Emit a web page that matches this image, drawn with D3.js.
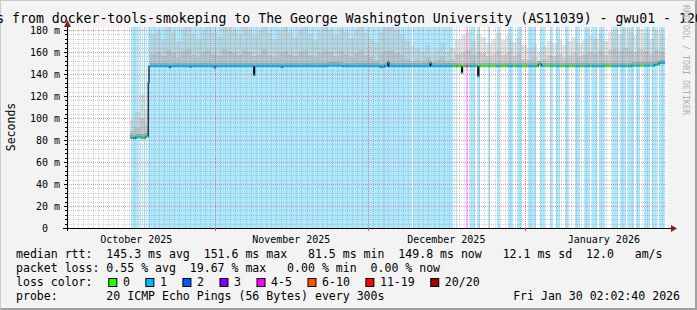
<!DOCTYPE html>
<html>
<head>
<meta charset="utf-8">
<script src="https://cdn.jsdelivr.net/npm/d3@7"></script>
<style>
  body { margin: 0; background: #f3f3f3; }
  svg { display: block; }
  text { font-family: "DejaVu Sans Mono", monospace; white-space: pre; fill: #000; }
</style>
</head>
<body>
<div id="chart"></div>
<script>

// ---- data (days counted from 2025-10-01 00:00 UTC) ----
var titleText = "Last 120 Days from docker-tools-smokeping to The George Washington University (AS11039) - gwu01 - 120 Days";
var yTicks = [0, 20, 40, 60, 80, 100, 120, 140, 160, 180];
var monthStarts = ["2025-10-01", "2025-11-01", "2025-12-01", "2026-01-01", "2026-02-01"];
var monthNames = ["October 2025", "November 2025", "December 2025", "January 2026"];

// median rtt, step after: [day, ms]
var medianRtt = [
  [14.3, 82], [14.9, 81.5], [15.4, 82.5], [16.5, 82], [17.3, 83], [17.85, 132], [18.0, 147],
  [22.0, 146], [22.3, 147], [26.0, 146.4], [26.3, 147], [30.8, 145.8], [31.1, 147],
  [38.6, 139], [38.8, 147], [44.0, 146.2], [44.3, 147], [53.0, 147.5], [56.0, 147],
  [63.5, 146.2], [64.0, 147], [65.0, 150.5], [65.2, 147], [73.3, 150], [73.5, 147],
  [79.5, 141], [79.7, 147], [82.7, 138], [82.9, 147], [94.6, 149], [95.2, 147.3],
  [96.5, 147], [113.0, 147.5], [117.5, 148.5], [118.3, 149.8]
];
var dataStart = 14.3, dataEnd = 119.5;

// packet loss runs: [from day, to day, lost pings of 20]
var lossRuns = [
  [14.46, 14.96, 1], [15.15, 16.04, 1], [16.23, 16.43, 1], [16.63, 16.82, 1], [17.02, 17.22, 1], [17.41, 17.61, 1],
  [17.9, 64.25, 1], [64.25, 64.45, 2], [64.45, 69.75, 1], [69.95, 77.8, 1],
  [78.5, 78.7, 1], [80.4, 80.8, 4], [81.2, 82.2, 1], [82.6, 83.2, 1], [84.7, 85.1, 1], [86.4, 87.1, 1],
  [88.6, 89.6, 1], [90.4, 91.4, 1], [92.6, 94.2, 1], [95.0, 95.9, 1], [96.9, 97.5, 1], [98.1, 98.9, 1],
  [99.9, 100.6, 1], [101.8, 102.8, 1], [103.6, 104.8, 1], [105.2, 106.2, 1], [106.6, 107.7, 1],
  [109.1, 110.3, 1], [110.7, 111.9, 1], [112.3, 113.5, 1], [113.9, 114.6, 1], [115.4, 116.6, 1],
  [117.0, 118.0, 1], [118.4, 119.5, 1]
];

// smoke (ping spread), one value per day from smokeStart
var smokeStart = 14.3;
var smokeMid = [88, 92, 100, 94,
  158,160,156,162,159,155,161,163,157,155,160,162,158,156,163,161,159,157,162,160,156,158,163,157,155,160,
  161,158,156,160,162,157,155,159,162,160,156,161,158,155,159,162,157,155,153,158,161,162,159,157,154,152,
  153,152,155,151,153,156,152,154,
  158,160,162,157,160,159,156,158,161,157,159,156,158,154,153,155,152,154,157,156,158,155,157,159,156,158,
  160,158,161,157,162,163,161,164,162,160,163,161,158,162,160,159];
var smokeTop = [98, 105, 122, 108,
  176,180,172,183,178,170,181,183,176,172,180,183,178,174,183,183,180,176,183,181,175,179,183,177,172,180,
  183,178,174,181,183,176,171,179,183,180,175,182,178,173,180,183,177,172,169,178,183,183,180,176,170,165,
  163,160,166,158,162,168,160,164,
  172,175,178,170,176,174,168,172,177,171,175,169,173,166,163,167,160,165,170,168,172,166,170,174,168,171,
  175,172,176,170,178,180,176,182,178,175,181,177,172,179,176,174];

var lossLabels = ["0", "1", "2", "3", "4-5", "6-10", "11-19", "20/20"];
var lossFloor = [0, 1, 2, 3, 4, 6, 11, 20];
var lossColors = ["#26ff00", "#00b8ff", "#0059ff", "#7e00ff", "#ff00ff", "#ff5500", "#ff0000", "#a10000"];

var rttLine = "median rtt:  145.3 ms avg  151.6 ms max   81.5 ms min  149.8 ms now   12.1 ms sd  12.0   am/s";
var lossLine = "packet loss: 0.55 % avg  19.67 % max   0.00 % min  0.00 % now";
var probeLine = "probe:       20 ICMP Echo Pings (56 Bytes) every 300s";
var stampText = "Fri Jan 30 02:02:40 2026";

// ---- chart ----
var W = 697, H = 310;
var margin = {top: 27, left: 67},
    width = 600, height = 201;

var DAY = 864e5, T0 = Date.UTC(2025, 9, 1);
function day(d) { return new Date(T0 + d * DAY); }
function lossColor(n) { return lossColors[d3.bisectRight(lossFloor, n) - 1]; }
function medianAt(d) {
  var v = medianRtt[0][1];
  medianRtt.forEach(function(p) { if (p[0] <= d) v = p[1]; });
  return v;
}
function lossAt(d) {
  var l = 0;
  lossRuns.forEach(function(r) { if (d >= r[0] && d < r[1]) l = r[2]; });
  return l;
}

var svg = d3.select("#chart").append("svg")
  .attr("width", W).attr("height", H);

svg.append("rect").attr("width", W).attr("height", H).attr("fill", "#f3f3f3");
svg.append("path").attr("d", "M0,309H697M696,0V310").attr("stroke", "#a0a0a0").attr("stroke-width", 2).attr("fill", "none");
svg.append("path").attr("d", "M0,0.5H696M0.5,0V309").attr("stroke", "#cbcbcb").attr("stroke-width", 1).attr("fill", "none");

var x = d3.scaleUtc().domain([day(1.87), day(119.93)]).range([0, width]);
var y = d3.scaleLinear().domain([0, 182.7]).range([height, 0]);

var g = svg.append("g").attr("transform", "translate(" + margin.left + "," + margin.top + ")");

g.append("clipPath").attr("id", "plot").append("rect").attr("width", width).attr("height", height);
var plot = g.append("g").attr("clip-path", "url(#plot)");
plot.append("rect").attr("width", width).attr("height", height).attr("fill", "#fff");

// loss shading
plot.selectAll(".loss").data(lossRuns).enter().append("rect")
  .attr("x", function(r) { return x(day(r[0])); })
  .attr("width", function(r) { return x(day(r[1])) - x(day(r[0])); })
  .attr("y", 0).attr("height", height)
  .attr("fill", function(r) { return lossColor(r[2]); })
  .attr("fill-opacity", 0.32)
  .attr("shape-rendering", "crispEdges");

// pieces between every change point
var cuts = [dataStart, dataEnd];
medianRtt.forEach(function(p) { cuts.push(p[0]); });
lossRuns.forEach(function(r) { cuts.push(r[0], r[1]); });
smokeTop.forEach(function(v, i) { cuts.push(smokeStart + i); });
cuts = Array.from(new Set(cuts.filter(function(c) { return c >= dataStart && c <= dataEnd; }))).sort(d3.ascending);

var pieces = [];
for (var i = 0; i < cuts.length - 1; i++) {
  var a = cuts[i], b = cuts[i + 1], m = (a + b) / 2;
  var k = Math.floor(m - smokeStart);
  pieces.push({a: a, b: b, med: medianAt(m), loss: lossAt(m), mid: smokeMid[k], top: smokeTop[k]});
}

// smoke
var smoke = plot.append("g").attr("shape-rendering", "crispEdges");
pieces.forEach(function(p) {
  if (p.top <= p.med) return;
  var x0 = x(day(p.a)), w = x(day(p.b)) - x0;
  smoke.append("rect").attr("x", x0).attr("width", w)
    .attr("y", y(p.top)).attr("height", y(p.mid) - y(p.top))
    .attr("fill", "#bcbcbc").attr("fill-opacity", 0.42);
  smoke.append("rect").attr("x", x0).attr("width", w)
    .attr("y", y(p.mid)).attr("height", y(p.med) - y(p.mid))
    .attr("fill", "#b0b0b0").attr("fill-opacity", 0.65);
  smoke.append("rect").attr("x", x0).attr("width", w)
    .attr("y", y(p.med + 3)).attr("height", y(p.med) - y(p.med + 3))
    .attr("fill", "#8c8c8c").attr("fill-opacity", 0.55);
});

// grid
var grid = plot.append("g").attr("shape-rendering", "crispEdges");
var minorY = d3.range(4, 181, 4).filter(function(v) { return v % 20; });
grid.selectAll(".hmin").data(minorY).enter().append("line")
  .attr("x1", 0).attr("x2", width)
  .attr("y1", function(v) { return Math.round(y(v)) + 0.5; })
  .attr("y2", function(v) { return Math.round(y(v)) + 0.5; })
  .attr("stroke", "#808080").attr("stroke-opacity", 0.35).attr("stroke-dasharray", "1,1");
grid.selectAll(".vmin").data(d3.utcDay.range(day(2), day(120))).enter().append("line")
  .attr("y1", 0).attr("y2", height)
  .attr("x1", function(t) { return Math.round(x(t)) + 0.5; })
  .attr("x2", function(t) { return Math.round(x(t)) + 0.5; })
  .attr("stroke", "#808080").attr("stroke-opacity", 0.35).attr("stroke-dasharray", "1,1");
grid.selectAll(".hmaj").data(yTicks.slice(1)).enter().append("line")
  .attr("x1", 0).attr("x2", width)
  .attr("y1", function(v) { return Math.round(y(v)) + 0.5; })
  .attr("y2", function(v) { return Math.round(y(v)) + 0.5; })
  .attr("stroke", "#e05050").attr("stroke-opacity", 0.6).attr("stroke-dasharray", "1,1");
var monthDates = monthStarts.map(function(s) { return new Date(s + "T00:00:00Z"); });
grid.selectAll(".vmaj").data(monthDates.slice(1, 4)).enter().append("line")
  .attr("y1", 0).attr("y2", height)
  .attr("x1", function(t) { return Math.round(x(t)) + 0.5; })
  .attr("x2", function(t) { return Math.round(x(t)) + 0.5; })
  .attr("stroke", "#e05050").attr("stroke-opacity", 0.6).attr("stroke-dasharray", "1,1");

// median line: dark steps, coloured by loss on the flat parts
var stepPts = pieces.map(function(p) { return [x(day(p.a)), y(p.med)]; });
stepPts.push([x(day(dataEnd)), y(pieces[pieces.length - 1].med)]);
plot.append("path")
  .attr("d", d3.line().curve(d3.curveStepAfter)(stepPts))
  .attr("fill", "none").attr("stroke", "#111").attr("stroke-width", 1.2);
plot.selectAll(".med").data(pieces).enter().append("line")
  .attr("x1", function(p) { return x(day(p.a)); })
  .attr("x2", function(p) { return x(day(p.b)); })
  .attr("y1", function(p) { return y(p.med); })
  .attr("y2", function(p) { return y(p.med); })
  .attr("stroke", function(p) { return lossColor(p.loss); })
  .attr("stroke-width", 2);

// axes
g.append("line").attr("x1", -4).attr("x2", width + 5).attr("y1", height + 0.5).attr("y2", height + 0.5)
  .attr("stroke", "#000");
g.append("line").attr("x1", 0.5).attr("x2", 0.5).attr("y1", height + 3).attr("y2", -4)
  .attr("stroke", "#000");
g.append("path").attr("d", "M" + (width + 4) + "," + (height - 3) + "L" + (width + 10) + "," + (height + 0.5) + "L" + (width + 4) + "," + (height + 4) + "Z")
  .attr("fill", "#8b1a1a");
g.append("path").attr("d", "M-3,0L0.5,-7L4,0Z").attr("fill", "#8b1a1a");

g.selectAll(".ytick").data(d3.range(0, 181, 4)).enter().append("line")
  .attr("x1", function(v) { return v % 20 ? -2 : -3; }).attr("x2", 0)
  .attr("y1", function(v) { return Math.round(y(v)) + 0.5; })
  .attr("y2", function(v) { return Math.round(y(v)) + 0.5; })
  .attr("stroke", "#000");
g.selectAll(".xtick").data(monthDates.slice(1, 4)).enter().append("line")
  .attr("x1", function(t) { return Math.round(x(t)) + 0.5; })
  .attr("x2", function(t) { return Math.round(x(t)) + 0.5; })
  .attr("y1", height).attr("y2", height + 3)
  .attr("stroke", "#e05050");

g.selectAll(".ylab").data(yTicks).enter().append("text")
  .attr("x", -7).attr("y", function(v) { return y(v) + 3.7; })
  .attr("text-anchor", "end").attr("font-size", "10px")
  .text(function(v) { return v === 0 ? "0  " : v + " m"; });

g.selectAll(".xlab").data(monthNames).enter().append("text")
  .attr("x", function(n, i) { return (x(monthDates[i]) + x(monthDates[i + 1])) / 2; })
  .attr("y", height + 14.5)
  .attr("text-anchor", "middle").attr("font-size", "10px")
  .text(function(n) { return n; });

// titles
svg.append("text").attr("x", -99.1).attr("y", 22.5).attr("font-size", "13.2px").text(titleText);
svg.append("text").attr("transform", "translate(15,127)rotate(-90)")
  .attr("text-anchor", "middle").attr("font-size", "11.5px").text("Seconds");
svg.append("text").attr("transform", "translate(683,5)rotate(90)")
  .attr("font-size", "8.3px").style("fill", "#b0b0b0").text("RRDTOOL / TOBI OETIKER");

// legend
svg.append("text").attr("x", 16).attr("y", 258).attr("font-size", "11.55px").text(rttLine);
svg.append("text").attr("x", 16).attr("y", 272).attr("font-size", "11.55px").text(lossLine);
svg.append("text").attr("x", 16).attr("y", 286).attr("font-size", "11.55px").text("loss color:");
var charW = 11.55 * 0.602, bx = 108.3;
lossLabels.forEach(function(lab, i) {
  svg.append("rect").attr("x", bx + 0.5).attr("y", 278.5).attr("width", 8).attr("height", 8)
    .attr("fill", lossColors[i]).attr("stroke", "#000");
  svg.append("text").attr("x", bx + 14.6).attr("y", 286).attr("font-size", "11.55px").text(lab);
  bx = bx + 14.6 + lab.length * charW + 15.5;
});
svg.append("text").attr("x", 16).attr("y", 300).attr("font-size", "11.55px").text(probeLine);
svg.append("text").attr("x", 680).attr("y", 300).attr("text-anchor", "end").attr("font-size", "11.55px").text(stampText);

</script>
</body>
</html>
